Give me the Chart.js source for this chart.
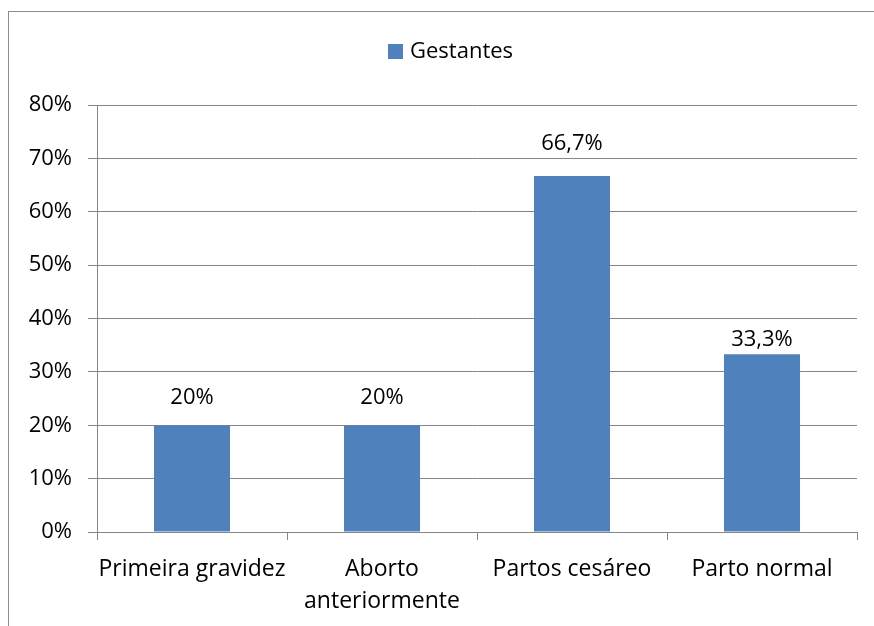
<!DOCTYPE html>
<html lang="pt-BR">
<head>
<meta charset="utf-8">
<title>Gestantes</title>
<script src="https://cdn.jsdelivr.net/npm/chart.js@4/dist/chart.umd.min.js"></script>
<style>
  html, body { margin: 0; padding: 0; background: #fff; }
  #wrap { position: relative; width: 874px; height: 626px; }
</style>
</head>
<body>
<div id="wrap"><canvas id="chart"></canvas></div>
<script>
// Dados do gráfico
const categorias = ["Primeira gravidez", ["Aborto", "anteriormente"], "Partos cesáreo", "Parto normal"];
const gestantes = [20, 20, 66.7, 33.3];
const ticksY = [0, 10, 20, 30, 40, 50, 60, 70, 80];

const corBarra = "#4F81BD";
const corLinha = "#868686";
const fonte = "'Open Sans', sans-serif";

// formata 66.7 -> "66,7%"
function pct(v) {
    return String(v).replace(".", ",") + "%";
}

// moldura em volta do gráfico
const moldura = {
    id: "moldura",
    beforeDraw(chart) {
        const ctx = chart.ctx;
        ctx.save();
        ctx.fillStyle = "#fff";
        ctx.fillRect(0, 0, chart.width, chart.height);
        ctx.strokeStyle = "#8c8c8c";
        ctx.lineWidth = 1;
        ctx.strokeRect(8.5, 11.5, chart.width + 20, chart.height + 20);
        ctx.restore();
    }
};

// legenda simples no topo
const legenda = {
    id: "legenda",
    afterDraw(chart) {
        const ds = chart.data.datasets[0];
        const ctx = chart.ctx;
        ctx.save();
        ctx.fillStyle = ds.backgroundColor;
        ctx.fillRect(388, 44, 15, 15);
        ctx.fillStyle = "#000";
        ctx.font = "22px " + fonte;
        ctx.textAlign = "left";
        ctx.textBaseline = "middle";
        ctx.fillText(ds.label, 410, 51.5);
        ctx.restore();
    }
};

// rótulos de valor acima das barras
const rotulos = {
    id: "rotulos",
    afterDatasetsDraw(chart, args, opts) {
        const ctx = chart.ctx;
        const meta = chart.getDatasetMeta(0);
        ctx.save();
        ctx.fillStyle = "#000";
        ctx.font = "22px " + fonte;
        ctx.textAlign = "center";
        ctx.textBaseline = "middle";
        meta.data.forEach((bar, i) => {
            const v = chart.data.datasets[0].data[i];
            ctx.fillText(pct(v), bar.x, bar.y - opts.distancia[i]);
        });
        ctx.restore();
    }
};

function renderChart() {
    const ctx = document.getElementById("chart").getContext("2d");
    new Chart(ctx, {
        type: "bar",
        data: {
            labels: categorias,
            datasets: [
                {
                    label: "Gestantes",
                    data: gestantes,
                    backgroundColor: corBarra,
                    borderWidth: 0,
                    barPercentage: 0.4,
                    categoryPercentage: 1
                }
            ]
        },
        options: {
            responsive: true,
            maintainAspectRatio: false,
            animation: false,
            layout: {
                padding: { top: 105, left: 0, right: 17, bottom: 0 }
            },
            plugins: {
                legend: { display: false },
                tooltip: { enabled: false },
                rotulos: { distancia: [28, 28, 32, 15] }
            },
            scales: {
                x: {
                    grid: {
                        display: true,
                        drawOnChartArea: false,
                        drawTicks: true,
                        tickLength: 8,
                        color: corLinha
                    },
                    border: { color: corLinha },
                    ticks: {
                        color: "#000",
                        padding: 13,
                        maxRotation: 0,
                        autoSkip: false,
                        font: { family: fonte, size: 23, lineHeight: 1.4 }
                    },
                    afterFit(scale) {
                        scale.height = 94;
                    }
                },
                y: {
                    min: 0,
                    max: 80,
                    afterBuildTicks(scale) {
                        scale.ticks = ticksY.map(v => ({ value: v }));
                    },
                    grid: {
                        color: corLinha,
                        tickLength: 9
                    },
                    border: { color: corLinha },
                    ticks: {
                        color: "#000",
                        padding: 16,
                        font: { family: fonte, size: 22 },
                        callback: v => v + "%"
                    },
                    afterFit(scale) {
                        scale.width = 97;
                    }
                }
            }
        },
        plugins: [moldura, rotulos, legenda]
    });
}

document.addEventListener("DOMContentLoaded", renderChart);
</script>
</body>
</html>
